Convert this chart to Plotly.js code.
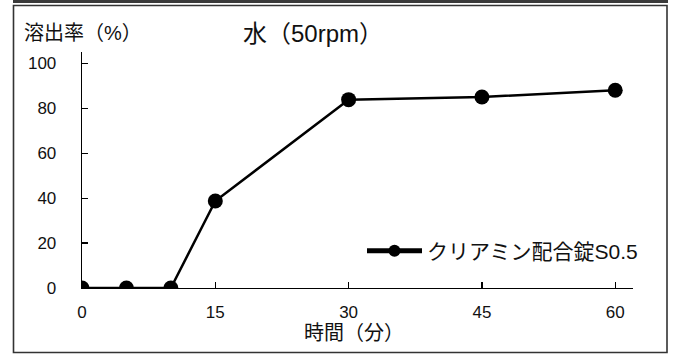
<!DOCTYPE html>
<html>
<head>
<meta charset="utf-8">
<script src="https://cdn.plot.ly/plotly-3.0.1.min.js"></script>
<style>
html,body{margin:0;padding:0;background:#fff;}
#chart{width:675px;height:354px;}
</style>
</head>
<body>
<div id="chart"></div>
<script>
const times = [0, 5, 10, 15, 30, 45, 60];
const dissolution = [0, 0, 0, 38.7, 83.8, 85.0, 88.0];
const seriesName = "クリアミン配合錠S0.5";
const xTicks = [0, 15, 30, 45, 60];
const yTicks = [0, 20, 40, 60, 80, 100];
const chartTitle = "水（50rpm）";
const xTitle = "時間（分）";
const yTitle = "溶出率（%）";

const FONT = "Liberation Sans, Arial, Noto Sans CJK JP, sans-serif";
const L = 82, R = 42, T = 52, B = 66;
const W = 675, H = 354;
const pw = W - L - R, ph = H - T - B;
const px = x => (x - L) / pw;
const py = y => (H - B - y) / ph;

const trace = {
  x: times, y: dissolution, name: seriesName,
  type: "scatter", mode: "lines+markers",
  line: {color: "#000", width: 2.5},
  marker: {color: "#000", size: 15}
};

const layout = {
  width: W, height: H,
  margin: {l: L, r: R, t: T, b: B, pad: 0},
  paper_bgcolor: "#fff", plot_bgcolor: "#fff",
  font: {family: FONT, color: "#111", size: 17},
  showlegend: true,
  legend: {
    x: px(362), y: py(251), xanchor: "left", yanchor: "middle",
    font: {family: FONT, size: 21, color: "#111"},
    itemsizing: "constant", itemwidth: 55,
    bgcolor: "rgba(0,0,0,0)", borderwidth: 0
  },
  xaxis: {
    range: [0, 62], tickvals: xTicks, ticktext: xTicks.map(String),
    ticks: "inside", ticklen: 6, tickwidth: 1.2, tickcolor: "#000",
    showline: true, linecolor: "#000", linewidth: 1.3,
    showgrid: false, zeroline: false,
    tickfont: {family: FONT, size: 17, color: "#111"},
    ticklabelstandoff: 8,
    title: {text: ""}
  },
  yaxis: {
    range: [0, 105], tickvals: yTicks, ticktext: yTicks.map(String),
    ticks: "inside", ticklen: 6, tickwidth: 1.2, tickcolor: "#000",
    showline: true, linecolor: "#000", linewidth: 1.3,
    showgrid: false, zeroline: false,
    tickfont: {family: FONT, size: 17, color: "#111"},
    ticklabelstandoff: 21,
    title: {text: ""}
  },
  annotations: [
    {text: chartTitle, xref: "paper", yref: "paper", x: px(241), y: py(33),
     xanchor: "left", yanchor: "middle", showarrow: false,
     font: {family: FONT, size: 24, color: "#111"}},
    {text: yTitle, xref: "paper", yref: "paper", x: px(22), y: py(33),
     xanchor: "left", yanchor: "middle", showarrow: false,
     font: {family: FONT, size: 20, color: "#111"}},
    {text: xTitle, xref: "paper", yref: "paper", x: px(354), y: py(333),
     xanchor: "center", yanchor: "middle", showarrow: false,
     font: {family: FONT, size: 20, color: "#111"}}
  ],
  shapes: [
    {type: "rect", xref: "paper", yref: "paper",
     x0: px(13), x1: px(668), y0: py(0), y1: py(3),
     fillcolor: "#3a3a3a", line: {width: 0}},
    {type: "rect", xref: "paper", yref: "paper",
     x0: px(13.5), x1: px(667), y0: py(5.5), y1: py(352.5),
     line: {color: "#333", width: 1.6}, fillcolor: "rgba(0,0,0,0)"}
  ]
};

Plotly.newPlot("chart", [trace], layout, {displayModeBar: false, staticPlot: true});
</script>
</body>
</html>
